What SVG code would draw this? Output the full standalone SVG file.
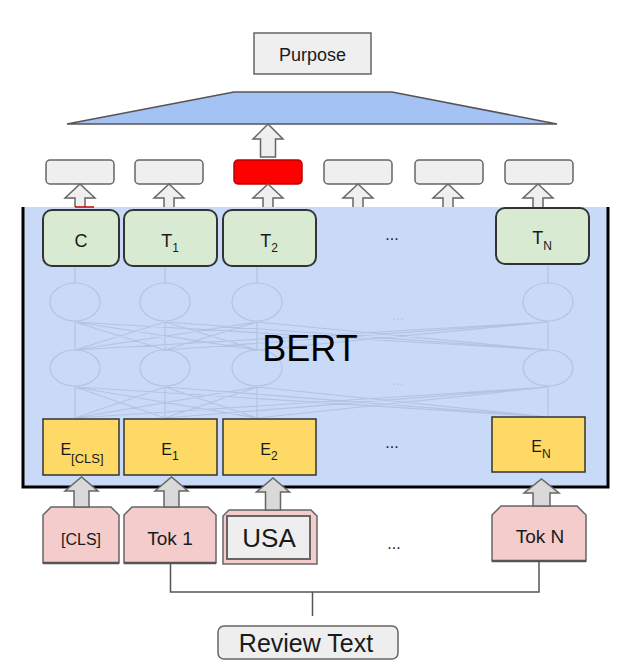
<svg xmlns="http://www.w3.org/2000/svg" width="636" height="671" viewBox="0 0 636 671">
<style>
  text { font-family: "Liberation Sans", Arial, sans-serif; fill: #1a1a1a; }
  .out { fill: #efefef; stroke: #666; stroke-width: 1.5; }
  .green { fill: #d9ead3; stroke: #333; stroke-width: 2; }
  .yellow { fill: #ffd966; stroke: #333; stroke-width: 1.5; }
  .tok { fill: #f4cccc; stroke: #666; stroke-width: 1.5; }
  .tokbase { stroke: #555; stroke-width: 2.5; }
  .arrow-out { fill: #efefef; stroke: #666; stroke-width: 1.5; }
  .arrow-in { fill: #d9d9d9; stroke: #666; stroke-width: 1.5; }
  .net { fill: none; stroke: #b3c4e3; stroke-width: 1.2; }
  .line { fill: none; stroke: #555; stroke-width: 1.5; }
  .dots { font-size: 16px; text-anchor: middle; }
</style>

<g id="purpose">
  <rect x="254" y="33" width="117" height="41" fill="#efefef" stroke="#666" stroke-width="1.5"/>
  <text x="312.5" y="61" font-size="18" text-anchor="middle">Purpose</text>
</g>

<g id="classifier">
  <polygon points="234,92 392,92 557,124 67,124" fill="#a4c2f4" stroke="#555" stroke-width="1.5"/>
</g>

<g id="outputs">
  <rect id="out-1" class="out" x="46" y="160" width="68" height="24" rx="4"/>
  <rect id="out-2" class="out" x="135" y="160" width="68" height="24" rx="4"/>
  <rect id="out-3" x="234" y="160" width="68" height="24" rx="4" fill="#ff0000" stroke="#b00" stroke-width="1.5"/>
  <rect id="out-4" class="out" x="324" y="160" width="68" height="24" rx="4"/>
  <rect id="out-5" class="out" x="415" y="160" width="68" height="24" rx="4"/>
  <rect id="out-6" class="out" x="505" y="160" width="68" height="24" rx="4"/>
</g>

<g id="bert">
  <rect x="23" y="207" width="585" height="280" fill="#c9daf8"/>
  <path d="M23,207 V487 H608 V207" fill="none" stroke="#000" stroke-width="3"/>
  <g id="net">
    <ellipse class="net" cx="75" cy="302" rx="25" ry="19"/>
    <ellipse class="net" cx="165" cy="302" rx="25" ry="19"/>
    <ellipse class="net" cx="257" cy="302" rx="25" ry="19"/>
    <ellipse class="net" cx="548" cy="302" rx="25" ry="19"/>
    <ellipse class="net" cx="75" cy="368" rx="25" ry="18"/>
    <ellipse class="net" cx="165" cy="368" rx="25" ry="18"/>
    <ellipse class="net" cx="257" cy="368" rx="25" ry="18"/>
    <ellipse class="net" cx="548" cy="368" rx="25" ry="18"/>
    <path class="net" d="M75,283 V266 M165,283 V266 M257,283 V266 M548,283 V264"/>
    <path class="net" d="M75,350 L75,322 M75,350 L165,322 M75,350 L257,322 M75,350 L548,322
      M165,350 L75,322 M165,350 L165,322 M165,350 L257,322 M165,350 L548,322
      M257,350 L75,322 M257,350 L165,322 M257,350 L257,322 M257,350 L548,322
      M548,350 L75,322 M548,350 L165,322 M548,350 L257,322 M548,350 L548,322"/>
    <path class="net" d="M75,418 L75,387 M75,418 L165,387 M75,418 L257,387 M75,418 L548,387
      M165,418 L75,387 M165,418 L165,387 M165,418 L257,387 M165,418 L548,387
      M257,418 L75,387 M257,418 L165,387 M257,418 L257,387 M257,418 L548,387
      M548,417 L75,387 M548,417 L165,387 M548,417 L257,387 M548,417 L548,387"/>
    <text x="398" y="320" font-size="14" text-anchor="middle" fill="#b3c4e3" style="fill:#b3c4e3">...</text>
    <text x="398" y="385" font-size="14" text-anchor="middle" fill="#b3c4e3" style="fill:#b3c4e3">...</text>
  </g>
  <text x="310" y="361" font-size="36" text-anchor="middle" style="fill:#000">BERT</text>
</g>

<g id="T-C">
  <rect class="green" x="43" y="210" width="76" height="56" rx="9"/>
  <text x="81" y="247" font-size="18" text-anchor="middle">C</text>
</g>
<g id="T-1">
  <rect class="green" x="124" y="210" width="93" height="56" rx="9"/>
  <text x="170" y="247" font-size="18" text-anchor="middle">T<tspan font-size="12" dy="5">1</tspan></text>
</g>
<g id="T-2">
  <rect class="green" x="223" y="210" width="93" height="56" rx="9"/>
  <text x="269" y="247" font-size="18" text-anchor="middle">T<tspan font-size="12" dy="5">2</tspan></text>
</g>
<g id="T-dots">
  <text class="dots" x="392" y="240">...</text>
</g>
<g id="T-N">
  <rect class="green" x="496" y="208" width="93" height="56" rx="9"/>
  <text x="542" y="244" font-size="18" text-anchor="middle">T<tspan font-size="12" dy="6">N</tspan></text>
</g>

<g id="E-CLS">
  <rect class="yellow" x="43" y="419" width="76" height="56"/>
  <text x="82" y="455" font-size="16" text-anchor="middle">E<tspan font-size="13" dy="8">[CLS]</tspan></text>
</g>
<g id="E-1">
  <rect class="yellow" x="124" y="419" width="93" height="56"/>
  <text x="170" y="455" font-size="16" text-anchor="middle">E<tspan font-size="12" dy="5">1</tspan></text>
</g>
<g id="E-2">
  <rect class="yellow" x="223" y="419" width="93" height="56"/>
  <text x="269" y="455" font-size="16" text-anchor="middle">E<tspan font-size="12" dy="5">2</tspan></text>
</g>
<g id="E-dots">
  <text class="dots" x="392" y="448">...</text>
</g>
<g id="E-N">
  <rect class="yellow" x="492" y="417" width="93" height="55"/>
  <text x="541" y="452" font-size="16" text-anchor="middle">E<tspan font-size="12" dy="6">N</tspan></text>
</g>

<g id="tok-cls">
  <path class="tok" d="M43,563 V515 L51,507 H111 L119,515 V563 Z"/>
  <line class="tokbase" x1="43" y1="563" x2="119" y2="563"/>
  <text x="81" y="545" font-size="16" text-anchor="middle">[CLS]</text>
</g>
<g id="tok-1">
  <path class="tok" d="M124,563 V515 L132,507 H208 L216,515 V563 Z"/>
  <line class="tokbase" x1="124" y1="563" x2="216" y2="563"/>
  <text x="170" y="545" font-size="19" text-anchor="middle">Tok 1</text>
</g>
<g id="tok-usa">
  <path class="tok" d="M223,564 V516 L229,510 H311 L317,516 V564 Z"/>
  <rect x="227" y="516" width="83" height="43" fill="#eeeeee" stroke="#666" stroke-width="2"/>
  <text x="269" y="547" font-size="26" text-anchor="middle">USA</text>
</g>
<g id="tok-dots">
  <text class="dots" x="394" y="549">...</text>
</g>
<g id="tok-n">
  <path class="tok" d="M492,561 V515 L501,506 H577 L586,515 V561 Z"/>
  <line class="tokbase" x1="492" y1="561" x2="586" y2="561"/>
  <text x="540" y="543" font-size="19" text-anchor="middle">Tok N</text>
</g>

<g id="review-text">
  <rect x="218" y="626" width="180" height="33" rx="6" fill="#eeeeee" stroke="#666" stroke-width="1.5"/>
  <text x="306" y="652" font-size="25" text-anchor="middle">Review Text</text>
</g>

<g id="connectors">
  <path class="arrow-out" d="M260.5,157 V139 H253 L268,124 L283,139 H275.5 V157 Z"/>
  <path class="arrow-out" d="M75,207 V198 H65 L80,184 L95,198 H85 V207"/>
  <path class="arrow-out" d="M164,207 V198 H154 L169,184 L184,198 H174 V207"/>
  <path class="arrow-out" d="M263,207 V198 H253 L268,184 L283,198 H273 V207"/>
  <path class="arrow-out" d="M353,207 V198 H343 L358,184 L373,198 H363 V207"/>
  <path class="arrow-out" d="M443,207 V198 H433 L448,184 L463,198 H453 V207"/>
  <path class="arrow-out" d="M533,207 V198 H523 L538,184 L553,198 H543 V207"/>
  <line x1="75" y1="207" x2="94" y2="207" stroke="#cc0000" stroke-width="1.5"/>

  <path class="arrow-in" d="M74,507 V491 H65 L81.5,477 L98,491 H89 V507 Z"/>
  <path class="arrow-in" d="M164,507 V491 H155 L171.5,477 L188,491 H179 V507 Z"/>
  <path class="arrow-in" d="M265.5,510 V492 H256.5 L273,478 L289.5,492 H280.5 V510 Z"/>
  <path class="arrow-in" d="M533,506 V493 H524 L541.5,479 L559,493 H550 V506 Z"/>

  <path class="line" d="M170.5,564 V592 H539 V561"/>
  <line class="line" x1="312.5" y1="592" x2="312.5" y2="616"/>
</g>
</svg>
